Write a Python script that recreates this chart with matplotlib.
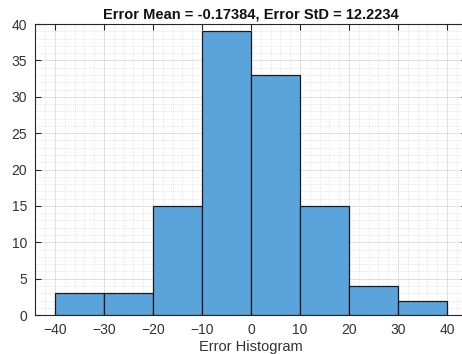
import matplotlib
matplotlib.use("Agg")
import matplotlib.pyplot as plt
from matplotlib.ticker import MultipleLocator

bin_edges = [-40, -30, -20, -10, 0, 10, 20, 30, 40]
counts = [3, 3, 15, 39, 33, 15, 4, 2]
xticks = [-40, -30, -20, -10, 0, 10, 20, 30, 40]
yticks = [0, 5, 10, 15, 20, 25, 30, 35, 40]
title = "Error Mean = -0.17384, Error StD = 12.2234"
xlabel = "Error Histogram"

plt.rcParams['font.family'] = ['Liberation Sans', 'DejaVu Sans']

fig = plt.figure(figsize=(4.62, 3.54), dpi=100)
ax = fig.add_axes([0.0768, 0.110, 0.933, 0.822])

widths = [bin_edges[i + 1] - bin_edges[i] for i in range(len(counts))]
ax.bar(bin_edges[:-1], counts, width=widths, align='edge',
       color='#5BA3DB', edgecolor='#1a1a1a', linewidth=0.9, zorder=3)

ax.set_xlim(-44, 44)
ax.set_ylim(0, 40)
ax.set_xticks(xticks)
ax.set_yticks(yticks)
ax.xaxis.set_minor_locator(MultipleLocator(2))
ax.yaxis.set_minor_locator(MultipleLocator(1))
ax.grid(which='major', color='#dcdcdc', linewidth=0.6, linestyle='-', zorder=0)
ax.grid(which='minor', color='#dcdcdc', linewidth=0.5, linestyle=(0, (1.5, 1.5)), zorder=0)
ax.set_axisbelow(True)

ax.tick_params(which='major', direction='in', length=4, width=0.8, top=True, right=True,
               labelsize=10, colors='#262626', labelcolor='#333333', pad=6)
ax.tick_params(which='minor', length=0)
for s in ax.spines.values():
    s.set_color('#262626')
    s.set_linewidth(0.8)

ax.set_title(title, fontsize=10.5, fontweight='bold', color='#111111', pad=4)
ax.set_xlabel(xlabel, fontsize=10.5, color='#333333', labelpad=2)

fig.savefig('out.png', dpi=100)
